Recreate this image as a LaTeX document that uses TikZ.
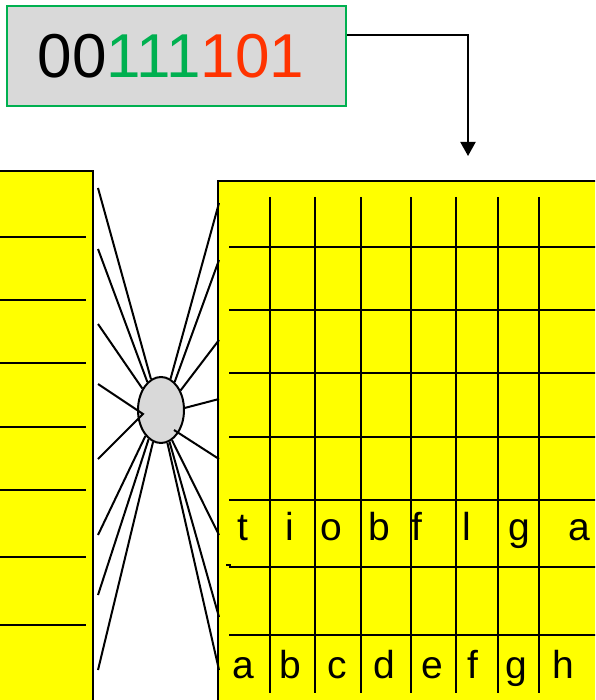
\documentclass[tikz,border=0pt]{standalone}
\usepackage{fontspec}
\setmainfont{Liberation Sans}
\usetikzlibrary{shapes.geometric,arrows.meta}

\definecolor{codegreen}{HTML}{00B050}
\definecolor{codered}{HTML}{FF3300}
\definecolor{boxgray}{HTML}{D9D9D9}
\definecolor{panelyellow}{HTML}{FFFF00}

\tikzset{
    panel/.style={draw=black, line width=2.2pt, fill=panelyellow},
    rule/.style={line width=2pt},
    fan/.style={line width=2pt},
    letter/.style={anchor=base, inner sep=0pt, font=\fontsize{39}{40}\selectfont}
}

\begin{document}
\begin{tikzpicture}[x=1pt, y=-1pt, >={Triangle[length=14pt, width=15pt]}]
        % --- SETTINGS ---
        \def\Lx{98}   % free ends of the fan, left
        \def\Rx{219}  % free ends of the fan, right

        \useasboundingbox (0,0) rectangle (595,700);
        \clip (0,0) rectangle (595,700);

        % --- CODE WORD ---
        \node[draw=codegreen, line width=2pt, fill=boxgray, minimum width=339pt,
              minimum height=100pt, inner sep=0pt, font=\fontsize{62}{62}\selectfont]
              (code) at (176.5,56) {\hspace*{-11pt}00\textcolor{codegreen}{111}\textcolor{codered}{101}};
        \coordinate (tip) at (468,156);
        \draw[->, line width=2pt] ([yshift=21pt]code.east) -| (tip);

        % --- LEFT PANEL ---
        \draw[panel] (-5,171) rectangle (93,710);
        \foreach \y in {237, 300, 363, 427, 490, 557, 625} {
            \draw[rule] (0,\y) -- (86,\y);
        }

        % --- RIGHT PANEL ---
        \draw[panel] (218,181) rectangle (600,710);
        \foreach \x in {270, 315, 361, 411, 456, 498, 539} {
            \draw[rule] (\x,197) -- (\x,693);
        }
        \foreach \y in {247, 310, 373, 437, 500, 567, 635} {
            \draw[rule] (229,\y) -- (600,\y);
        }
        \draw[rule] (226,565) -- (231,565);

        % Letters
        \foreach \x/\c [count=\i] in {243/t, 290/i, 331/o, 379/b, 417/f, 467/l, 519/g, 579/a} {
            \node[letter] (top\i) at (\x,540) {\c};
        }
        \foreach \x/\c [count=\i] in {243/a, 290/b, 337/c, 384/d, 432/e, 473/f, 516/g, 563/h} {
            \node[letter] (bot\i) at (\x,678) {\c};
        }

        % =========================================
        % HUB AND FAN
        % =========================================
        \node[draw, line width=2pt, fill=boxgray, ellipse, minimum width=46pt,
              minimum height=66pt, inner sep=0pt] (hub) at (161,410) {};

        \foreach \y/\a [count=\i] in {188/108, 249/116, 324/131, 535/239, 595/247, 670/256} {
            \coordinate (l\i) at (\Lx,\y);
            \draw[fan] (l\i) -- (hub.\a);
        }
        \foreach \y/\a [count=\i] in {203/73, 260/64, 340/45, 399/5, 535/290, 617/285, 670/281} {
            \coordinate (r\i) at (\Rx,\y);
            \draw[fan] (r\i) -- (hub.\a);
        }

        % Kinks at the hub
        \coordinate (kinkL) at (143,414);
        \coordinate (kinkR) at (174,430);
        \coordinate (l7) at (\Lx,384);
        \coordinate (l8) at (\Lx,459);
        \coordinate (r8) at (\Rx,459);
        \draw[fan] (l7) -- (kinkL) -- (l8);
        \draw[fan] (kinkR) -- (r8);

    \end{tikzpicture}
\end{document}
